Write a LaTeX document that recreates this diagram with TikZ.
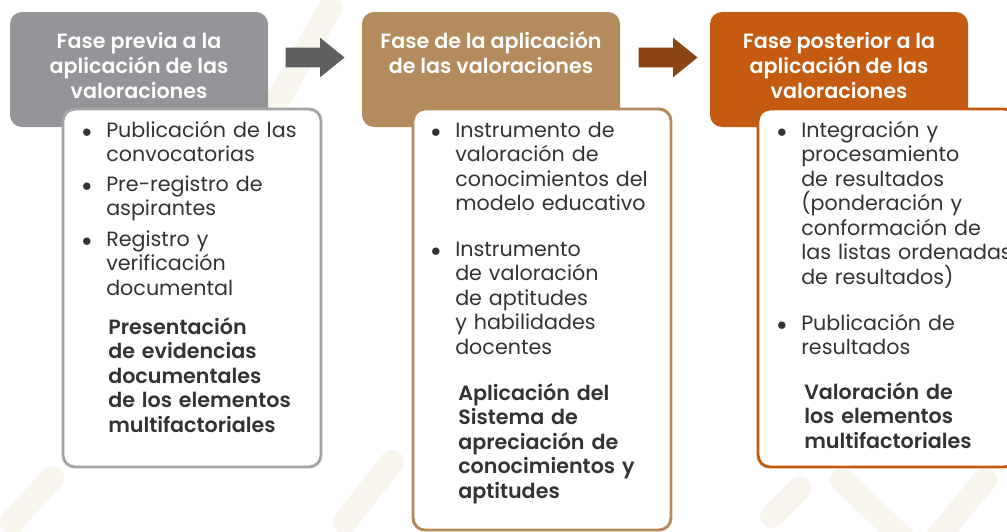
\documentclass[tikz,border=0pt]{standalone}
\usepackage{fontspec}
\setmainfont{Poppins}[BoldFont={Poppins SemiBold}]
\usetikzlibrary{positioning,shapes.arrows}

\definecolor{gris}{HTML}{939598}
\definecolor{grisborde}{HTML}{A3A4A6}
\definecolor{grisflecha}{HTML}{5F6062}
\definecolor{cafe}{HTML}{B38B5D}
\definecolor{cafeflecha}{HTML}{8B4513}
\definecolor{naranja}{HTML}{C55A11}
\definecolor{texto}{HTML}{333333}
\definecolor{marca}{HTML}{F8F5EF}

\newcommand\vineta{\llap{$\bullet$\hspace{11pt}}}

\tikzset{
  fase/.style={rounded corners=9pt, minimum width=193.5pt, minimum height=86.25pt, inner sep=0pt},
  fasetxt/.style={text=white, font=\bfseries\fontsize{15.5}{18.75}\selectfont, align=center, inner sep=0pt},
  panel/.style={draw, fill=white, line width=2.2pt, rounded corners=9pt, minimum width=193.5pt, inner sep=0pt},
  flecha/.style={single arrow, single arrow head extend=7.5pt, single arrow tip angle=78,
    minimum width=29.25pt, minimum height=44.25pt, inner xsep=0pt, inner ysep=7.125pt},
  punto/.style={anchor=base west, text width=200pt, align=left, inner sep=0pt, text=texto,
    font=\fontsize{15.5}{18.4}\selectfont},
  nota/.style={punto, font=\bfseries\fontsize{15.5}{18.4}\selectfont}
}

\begin{document}
\begin{tikzpicture}[x=0.75pt,y=-0.75pt]
\useasboundingbox (0,0) rectangle (1007,532);
% marca de agua
\begin{scope}[marca, line width=18pt, line cap=round]
\draw (12,522) -- (52,478);
\draw (345,522) -- (392,462);
\draw (268,118) -- (330,8);
\draw (772,516) -- (800,488);
\draw (842,480) -- (905,540);
\draw (985,480) -- (935,540);
\end{scope}

% encabezados
\node[fase, fill=gris] (h1) at (139,69.5) {};
\node[fase, fill=cafe] (h2) at (491,69.5) {};
\node[fase, fill=naranja] (h3) at (839,69.5) {};
\node[fasetxt, below=15pt of h1.north] (t1) {Fase previa a la\\aplicación de las\\valoraciones};
\node[fasetxt, below=15pt of h2.north] (t2) {Fase de la aplicación\\de las valoraciones};
\node[fasetxt, below=15pt of h3.north] (t3) {Fase posterior a la\\aplicación de las\\valoraciones};

% flechas
\node[flecha, fill=grisflecha] (f1) at (309,57.5) {};
\node[flecha, fill=cafeflecha] (f2) at (662,57.5) {};

% paneles
\node[panel, draw=grisborde, minimum height=268.5pt] (b1) at (192,288) {};
\node[panel, draw=cafe, minimum height=315.75pt] (b2) at (542,319.5) {};
\node[panel, draw=naranja, minimum height=268.5pt] (b3) at (887,288) {};

% fase previa
\node[punto] (p1) at (106,137) {\vineta Publicación de las\\convocatorias};
\node[punto] (p2) at (106,191) {\vineta Pre-registro de\\aspirantes};
\node[punto] (p3) at (106,246) {\vineta Registro y\\verificación\\documental};
\node[nota] (n1) at (108,334) {Presentación\\de evidencias\\documentales\\de los elementos\\multifactoriales};

% fase de la aplicacion
\node[punto] (q1) at (455,137) {\vineta Instrumento de\\valoración de\\conocimientos del\\modelo educativo};
\node[punto] (q2) at (455,256) {\vineta Instrumento\\de valoración\\de aptitudes\\y habilidades\\docentes};
\node[nota] (n2) at (458,400) {Aplicación del\\Sistema de\\apreciación de\\conocimientos y\\aptitudes};

% fase posterior
\node[punto] (r1) at (801,137) {\vineta Integración y\\procesamiento\\de resultados\\(ponderación y\\conformación de\\las listas ordenadas\\de resultados)};
\node[punto] (r2) at (801,330) {\vineta Publicación de\\resultados};
\node[nota] (n3) at (804,399) {Valoración de\\los elementos\\multifactoriales};
\end{tikzpicture}
\end{document}
